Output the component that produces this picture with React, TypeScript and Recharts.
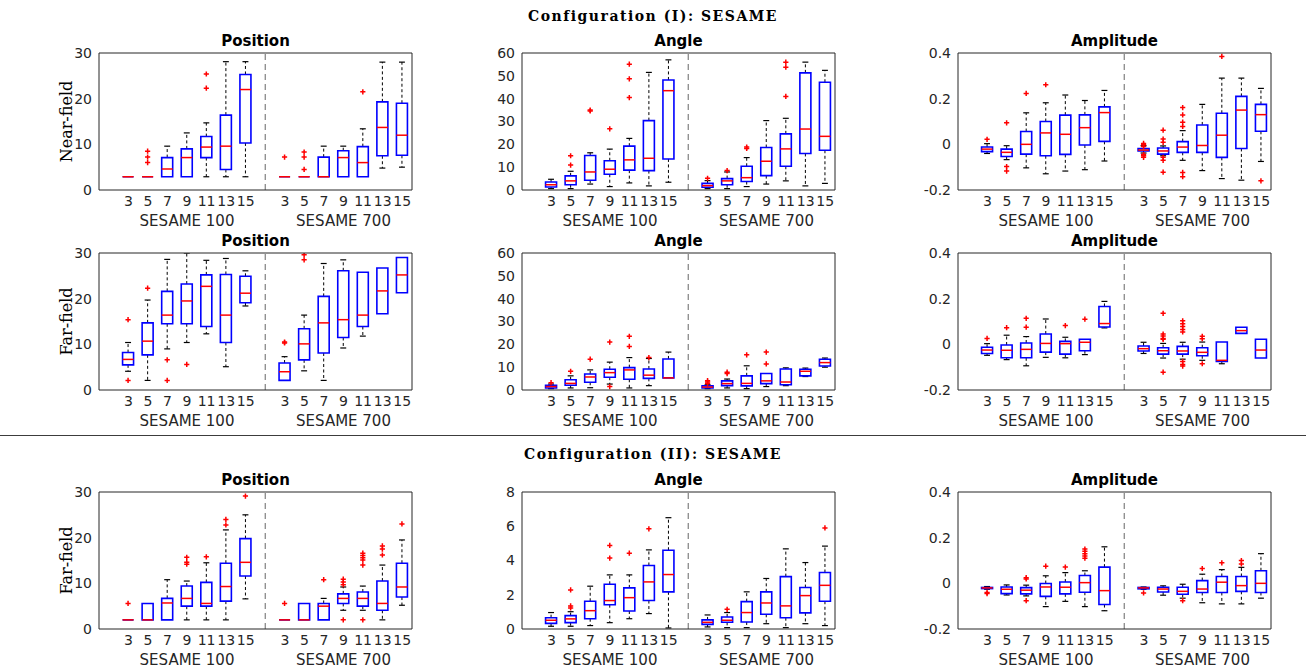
import React from "react";
import { ComposedChart, Bar, XAxis, YAxis, ReferenceLine } from "recharts";

// slots on the x axis: one empty slot, SESAME 100, a gap for the dashed line, SESAME 700
const slotKeys = ["pad", "a3", "a5", "a7", "a9", "a11", "a13", "a15", "gap", "b3", "b5", "b7", "b9", "b11", "b13", "b15"];
const slotTicks = [1, 2, 3, 4, 5, 6, 7, 8, 9, 10, 11, 12, 13, 14, 15, 16];
const groupNames = ["SESAME 100", "SESAME 700"];

// each box: [lower whisker, q1, median, q3, upper whisker]
const posNearBoxes = [
  [2.9, 2.9, 2.9, 2.9, 2.9], [2.9, 2.9, 2.9, 2.9, 2.9], [2.9, 2.9, 4.6, 7.1, 9.6], [2.9, 2.9, 7.1, 9.0, 12.5],
  [2.9, 7.1, 9.4, 11.7, 14.7], [2.9, 4.5, 9.6, 16.4, 28.1], [2.9, 10.3, 22.0, 25.3, 28.1],
  [2.9, 2.9, 2.9, 2.9, 2.9], [2.9, 2.9, 2.9, 2.9, 2.9], [2.9, 2.9, 2.9, 7.2, 9.6], [2.9, 2.9, 7.1, 8.6, 9.6],
  [2.9, 2.9, 6.0, 9.5, 13.4], [4.8, 7.5, 13.7, 19.3, 28.0], [5.0, 7.6, 12.0, 19.0, 28.0],
];
const posNearOut = [[], [6.0, 7.2, 8.5], [], [], [22.3, 25.4], [], [], [7.2], [4.5, 7.2, 8.3], [], [], [21.5], [], []];

const angNearBoxes = [
  [0.6, 1.3, 2.3, 3.5, 4.7], [0.6, 2.3, 4.0, 6.2, 8.2], [2.6, 4.3, 7.9, 15.1, 16.3], [1.5, 6.9, 9.1, 12.8, 17.9],
  [3.1, 8.7, 13.2, 19.2, 22.6], [1.8, 8.5, 13.9, 30.4, 51.5], [3.4, 13.6, 43.5, 48.2, 57.0],
  [0.6, 1.2, 1.9, 2.9, 4.1], [0.6, 2.3, 4.0, 5.0, 7.9], [1.5, 3.7, 5.4, 10.4, 14.2], [2.6, 6.3, 12.6, 18.6, 30.4],
  [4.0, 10.4, 18.0, 24.6, 31.4], [1.8, 16.0, 26.7, 51.3, 56.0], [2.9, 17.4, 23.5, 47.2, 52.4],
];
const angNearOut = [[], [10.9, 15.0], [34.6, 35.0], [26.8], [40.5, 48.7, 55.1], [], [], [5.1], [8.5], [18.2, 18.8], [], [41.0, 53.8, 56.0], [], []];

const ampNearBoxes = [
  [-0.04, -0.032, -0.021, -0.012, 0.003], [-0.067, -0.053, -0.035, -0.021, -0.006], [-0.103, -0.043, 0, 0.056, 0.138],
  [-0.129, -0.05, 0.05, 0.1, 0.182], [-0.117, -0.044, 0.044, 0.128, 0.216], [-0.111, -0.003, 0.073, 0.129, 0.192],
  [-0.073, 0.013, 0.139, 0.164, 0.236],
  [-0.038, -0.029, -0.025, -0.019, -0.006], [-0.05, -0.043, -0.029, -0.016, -0.007], [-0.07, -0.035, -0.012, 0.012, 0.06],
  [-0.115, -0.035, -0.005, 0.085, 0.175], [-0.15, -0.057, 0.04, 0.136, 0.29], [-0.157, -0.018, 0.15, 0.21, 0.29],
  [-0.075, 0.057, 0.13, 0.175, 0.245],
];
const ampNearOut = [
  [0.022], [0.094, -0.097, -0.117], [0.223], [0.261], [], [], [],
  [0.004, -0.002, -0.009, -0.045, -0.05, -0.057], [0.062, 0.023, 0.009, -0.057, -0.07, -0.122],
  [0.161, 0.129, 0.097, 0.078, -0.123, -0.142], [], [0.385], [], [-0.16],
];

const posFarBoxes = [
  [4.1, 5.5, 6.7, 8.2, 10.4], [2.1, 7.7, 10.7, 14.7, 19.7], [9.0, 14.5, 16.4, 21.6, 28.6], [10.4, 14.5, 19.5, 23.2, 30.0],
  [12.3, 13.9, 22.7, 25.2, 28.4], [5.1, 10.4, 16.4, 25.3, 28.8], [18.4, 19.1, 21.2, 24.9, 26.1],
  [2.1, 2.1, 4.0, 5.9, 7.3], [4.2, 6.6, 10.1, 13.4, 16.4], [2.1, 8.1, 14.7, 20.5, 27.7], [9.2, 11.5, 15.4, 26.1, 28.5],
  [11.8, 13.9, 16.4, 25.8, 25.8], [16.7, 16.7, 21.7, 26.7, 26.7], [21.3, 21.3, 25.2, 29.0, 29.0],
];
const posFarOut = [[15.4, 2.1], [22.3], [6.6, 2.1], [5.6], [], [], [], [10.3, 10.5], [28.5, 29.6], [], [], [], [], []];

const angFarBoxes = [
  [0.6, 0.9, 1.5, 2.1, 2.6], [0.9, 2.1, 2.9, 4.5, 6.2], [1.0, 3.4, 5.7, 7.0, 8.8], [2.6, 5.6, 7.6, 9.1, 12.2],
  [0.9, 4.7, 8.8, 9.8, 14.2], [1.9, 5.1, 6.5, 9.2, 13.8], [5.3, 5.3, 5.3, 13.6, 16.6],
  [0.6, 0.9, 1.3, 1.8, 2.3], [0.9, 1.9, 2.8, 4.0, 4.8], [0.6, 1.8, 2.9, 6.2, 10.6], [1.5, 2.8, 4.0, 7.2, 7.2],
  [1.9, 2.3, 3.5, 9.2, 9.7], [5.9, 6.2, 8.2, 9.1, 9.6], [10.0, 10.5, 12.0, 13.5, 14.0],
];
const angFarOut = [[3.2], [8.2], [13.5], [21.0, 1.5], [19.1, 23.5], [14.2], [], [2.9, 3.5, 4.1], [7.2, 7.8], [15.4], [11.4, 16.6], [], [], []];

const ampFarBoxes = [
  [-0.048, -0.04, -0.025, -0.013, 0.003], [-0.067, -0.059, -0.026, -0.003, 0.04], [-0.094, -0.059, -0.022, 0.006, 0.034],
  [-0.057, -0.034, 0.004, 0.045, 0.111], [-0.059, -0.043, 0.003, 0.013, 0.031], [-0.045, -0.028, 0.009, 0.022, 0.022],
  [0.072, 0.076, 0.091, 0.166, 0.188],
  [-0.04, -0.029, -0.019, -0.007, 0.009], [-0.06, -0.043, -0.028, -0.015, 0.004], [-0.065, -0.043, -0.029, -0.009, 0.009],
  [-0.07, -0.05, -0.035, -0.015, 0.01], [-0.085, -0.075, -0.07, 0.01, 0.01], [0.048, 0.048, 0.06, 0.075, 0.075],
  [-0.06, -0.06, -0.025, 0.022, 0.022],
];
const ampFarOut = [
  [0.026], [0.073], [0.075, 0.114], [], [0.082], [0.11], [],
  [], [0.136, 0.045, 0.037, 0.026, 0.022, -0.122], [0.103, 0.09, 0.078, 0.065, 0.054, -0.075, -0.088, -0.095],
  [0.025, 0.035, -0.085], [], [], [],
];

const posIIBoxes = [
  [2.0, 2.0, 2.0, 2.0, 2.0], [2.0, 2.0, 2.0, 5.6, 5.6], [2.0, 2.0, 5.7, 6.7, 10.8], [2.0, 5.0, 6.7, 9.4, 10.5],
  [2.0, 5.0, 5.6, 10.2, 14.5], [2.0, 6.1, 9.3, 14.4, 21.7], [6.6, 11.6, 14.6, 19.8, 25.0],
  [2.0, 2.0, 2.0, 2.0, 2.0], [2.0, 2.0, 2.0, 5.6, 5.6], [2.0, 2.0, 5.0, 5.6, 6.7], [4.1, 5.6, 6.7, 7.7, 9.2],
  [4.1, 5.0, 6.7, 8.1, 9.4], [2.0, 4.1, 5.6, 10.5, 14.0], [5.2, 7.0, 9.2, 14.4, 19.5],
];
const posIIOut = [
  [5.6], [], [], [14.2, 14.6, 15.7], [15.8], [22.8, 24.0], [29.1],
  [5.6], [], [10.8], [9.7, 10.3, 10.9, 2.0], [14.0, 15.1, 15.6, 16.1, 16.6, 2.0], [16.2, 17.5, 18.2], [23.0],
];

const angIIBoxes = [
  [0.16, 0.33, 0.51, 0.66, 0.96], [0.16, 0.37, 0.59, 0.78, 1.01], [0.2, 0.6, 1.07, 1.62, 2.5], [0.37, 1.42, 1.66, 2.61, 3.16],
  [0.6, 1.05, 1.83, 2.4, 3.16], [0.9, 1.66, 2.75, 3.71, 4.62], [0.06, 2.17, 3.18, 4.6, 6.5],
  [0.12, 0.27, 0.39, 0.53, 0.82], [0.08, 0.39, 0.51, 0.7, 0.96], [0.08, 0.41, 0.96, 1.6, 2.17], [0.31, 0.86, 1.52, 2.17, 2.95],
  [0.08, 0.66, 1.35, 3.06, 4.68], [0.31, 0.94, 1.95, 2.42, 3.88], [0.2, 1.62, 2.55, 3.3, 4.84],
];
const angIIOut = [[], [1.23, 1.35, 2.28], [], [4.14, 4.88], [4.43], [5.85], [], [], [1.15], [], [], [], [], [5.9]];

const ampIIBoxes = [
  [-0.026, -0.023, -0.02, -0.018, -0.014], [-0.051, -0.045, -0.026, -0.016, -0.007], [-0.055, -0.046, -0.03, -0.019, -0.008],
  [-0.102, -0.057, -0.016, -0.001, 0.033], [-0.079, -0.046, -0.017, 0.006, 0.047], [-0.102, -0.039, 0.003, 0.034, 0.055],
  [-0.12, -0.093, -0.032, 0.071, 0.16],
  [-0.026, -0.024, -0.02, -0.018, -0.016], [-0.052, -0.038, -0.025, -0.017, -0.011], [-0.065, -0.048, -0.035, -0.017, -0.004],
  [-0.085, -0.04, -0.025, 0.012, 0.04], [-0.09, -0.04, 0.005, 0.03, 0.06], [-0.09, -0.035, -0.01, 0.03, 0.07],
  [-0.065, -0.04, 0.0, 0.055, 0.13],
];
const ampIIOut = [
  [-0.04, -0.045], [], [0.019, 0.025, -0.076], [0.075], [0.071], [0.11, 0.12, 0.13, 0.14, 0.15], [],
  [-0.042], [], [-0.076], [0.065], [0.09], [0.085, 0.1], [],
];

const posTicks = [0, 10, 20, 30];
const angTicks = [0, 10, 20, 30, 40, 50, 60];
const angIITicks = [0, 2, 4, 6, 8];
const ampTicks = [-0.2, 0, 0.2, 0.4];

// layout (px)
const COL_X = [99, 522, 958];
const ROW_Y = [53, 253, 492];
const PLOT_W = 313;
const PLOT_H = 137;
const Y_W = 60;
const M_TOP = 10;
const M_RIGHT = 10;
const X_H = 25;

const SANS = "'DejaVu Sans', sans-serif";
const SERIF = "'DejaVu Serif', serif";
const AXIS = "#262626";

const panels = [
  { row: 0, col: 0, title: "Position", ylabel: "Near-field", boxes: posNearBoxes, outs: posNearOut, ticks: posTicks },
  { row: 0, col: 1, title: "Angle", boxes: angNearBoxes, outs: angNearOut, ticks: angTicks },
  { row: 0, col: 2, title: "Amplitude", boxes: ampNearBoxes, outs: ampNearOut, ticks: ampTicks },
  { row: 1, col: 0, title: "Position", ylabel: "Far-field", boxes: posFarBoxes, outs: posFarOut, ticks: posTicks },
  { row: 1, col: 1, title: "Angle", boxes: angFarBoxes, outs: angFarOut, ticks: angTicks },
  { row: 1, col: 2, title: "Amplitude", boxes: ampFarBoxes, outs: ampFarOut, ticks: ampTicks },
  { row: 2, col: 0, title: "Position", ylabel: "Far-field", boxes: posIIBoxes, outs: posIIOut, ticks: posTicks },
  { row: 2, col: 1, title: "Angle", boxes: angIIBoxes, outs: angIIOut, ticks: angIITicks },
  { row: 2, col: 2, title: "Amplitude", boxes: ampIIBoxes, outs: ampIIOut, ticks: ampTicks },
];

function buildRows(boxes: number[][], outs: number[][]) {
  let i = 0;
  return slotKeys.map((key) => {
    if (key === "pad" || key === "gap") return { key };
    const row = { key, s: boxes[i], o: outs[i] };
    i++;
    return row;
  });
}

const tickLabel = (k: string) => (k === "pad" || k === "gap" ? "" : k.slice(1));

// bar spans every value of the box so the shape can place all parts on the y scale
function boxRange(d: any) {
  if (!d.s) return null;
  return [Math.min(d.s[0], ...d.o), Math.max(d.s[4], ...d.o)];
}

function BoxShape(props: any) {
  const { x, y, width, height, payload } = props;
  if (!payload || !payload.s) return <g />;
  const [wlo, q1, med, q3, whi] = payload.s;
  const outs: number[] = payload.o;
  const hi = Math.max(whi, ...outs);
  const lo = Math.min(wlo, ...outs);
  const top = Math.min(y, y + height);
  const h = Math.abs(height);
  const py = (v: number) => (hi === lo ? top : top + ((hi - v) / (hi - lo)) * h);
  const cx = x + width / 2;
  const cap = width * 0.27;
  return (
    <g>
      {whi > q3 && <line x1={cx} x2={cx} y1={py(q3)} y2={py(whi)} stroke="#000" strokeWidth={1} strokeDasharray="3 2.5" />}
      {wlo < q1 && <line x1={cx} x2={cx} y1={py(q1)} y2={py(wlo)} stroke="#000" strokeWidth={1} strokeDasharray="3 2.5" />}
      {whi > q3 && <line x1={cx - cap} x2={cx + cap} y1={py(whi)} y2={py(whi)} stroke="#000" strokeWidth={1.2} />}
      {wlo < q1 && <line x1={cx - cap} x2={cx + cap} y1={py(wlo)} y2={py(wlo)} stroke="#000" strokeWidth={1.2} />}
      <path
        d={`M${x},${py(q1)}L${x + width},${py(q1)}L${x + width},${py(q3)}L${x},${py(q3)}Z`}
        fill="none"
        stroke="#0000ff"
        strokeWidth={1.6}
      />
      <line x1={x} x2={x + width} y1={py(med)} y2={py(med)} stroke="#ff0000" strokeWidth={1.5} />
      {outs.map((v, i) => (
        <path
          key={i}
          d={`M${cx - 2.6},${py(v)}H${cx + 2.6}M${cx},${py(v) - 2.6}V${py(v) + 2.6}`}
          stroke="#ff0000"
          strokeWidth={1.5}
        />
      ))}
    </g>
  );
}

function Panel({ p }: { p: any }) {
  const data = buildRows(p.boxes, p.outs);
  const domain = [p.ticks[0], p.ticks[p.ticks.length - 1]];
  const tickFont = { fill: AXIS, fontSize: 14, fontFamily: SANS };
  return (
    <div style={{ position: "absolute", left: COL_X[p.col] - Y_W, top: ROW_Y[p.row] - M_TOP }}>
      <ComposedChart
        width={PLOT_W + Y_W + M_RIGHT}
        height={PLOT_H + M_TOP + X_H}
        data={data}
        margin={{ top: M_TOP, right: M_RIGHT, bottom: 0, left: 0 }}
      >
        <XAxis
          dataKey="key"
          type="category"
          interval={0}
          tickFormatter={tickLabel}
          tickLine={false}
          tickSize={4}
          tickMargin={2}
          height={X_H}
          stroke={AXIS}
          tick={tickFont}
        />
        <XAxis xAxisId="top" orientation="top" mirror type="number" domain={[0.5, 16.5]} ticks={slotTicks}
          interval={0} tick={false} tickSize={3} stroke={AXIS} allowDataOverflow />
        <XAxis xAxisId="bin" orientation="bottom" mirror type="number" domain={[0.5, 16.5]} ticks={slotTicks}
          interval={0} tick={false} axisLine={false} tickSize={3} stroke={AXIS} allowDataOverflow />
        <YAxis
          type="number"
          domain={domain}
          ticks={p.ticks}
          interval={0}
          width={Y_W}
          tickLine={false}
          tickSize={4}
          tickMargin={3}
          stroke={AXIS}
          tick={tickFont}
          tickFormatter={(v: number) => String(v)}
          allowDataOverflow
        />
        <YAxis yAxisId="r" orientation="right" mirror type="number" domain={domain} ticks={p.ticks}
          interval={0} tick={false} tickSize={3} stroke={AXIS} allowDataOverflow />
        <YAxis yAxisId="lin" orientation="left" mirror type="number" domain={domain} ticks={p.ticks}
          interval={0} tick={false} axisLine={false} tickSize={3} stroke={AXIS} allowDataOverflow />
        <ReferenceLine x="gap" stroke="#8a8a8a" strokeWidth={1.3} strokeDasharray="6 4" />
        <Bar dataKey={boxRange} barSize={11} shape={BoxShape} isAnimationActive={false} />
      </ComposedChart>
    </div>
  );
}

export default function App() {
  const band = PLOT_W / slotKeys.length;
  return (
    <div style={{ position: "absolute", left: 0, top: 0, width: 1306, height: 672, background: "#fff", overflow: "hidden" }}>
      <svg width={1306} height={672} style={{ position: "absolute", left: 0, top: 0 }}>
        <text x={653} y={21} textAnchor="middle" fontFamily={SERIF} fontWeight="bold" fontSize={14} letterSpacing={1.5} fill="#000">
          Configuration (I): SESAME
        </text>
        <line x1={0} x2={1306} y1={435.5} y2={435.5} stroke="#3c3c3c" strokeWidth={1} />
        <text x={653} y={459} textAnchor="middle" fontFamily={SERIF} fontWeight="bold" fontSize={14} letterSpacing={1.5} fill="#000">
          Configuration (II): SESAME
        </text>
        {panels.map((p, i) => {
          const left = COL_X[p.col];
          const top = ROW_Y[p.row];
          return (
            <g key={i}>
              <text x={left + PLOT_W / 2} y={top - 7.3} textAnchor="middle" fontFamily={SANS} fontWeight="bold" fontSize={15} fill="#000">
                {p.title}
              </text>
              {groupNames.map((g, j) => (
                <text key={g} x={left + band * (4.5 + 8 * j)} y={top + PLOT_H + 35.5} textAnchor="middle" fontFamily={SANS} fontSize={15} fill={AXIS}>
                  {g}
                </text>
              ))}
              {p.ylabel && (
                <text transform={`translate(71.5, ${top + PLOT_H / 2}) rotate(-90)`} textAnchor="middle" fontFamily={SERIF} fontSize={16} fill="#000">
                  {p.ylabel}
                </text>
              )}
            </g>
          );
        })}
      </svg>
      {panels.map((p, i) => (
        <Panel key={i} p={p} />
      ))}
    </div>
  );
}
